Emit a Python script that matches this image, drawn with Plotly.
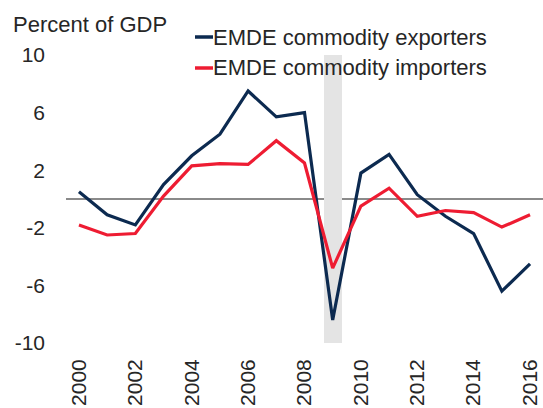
import plotly.graph_objects as go

years = list(range(2000, 2017))
exporters = [0.5, -1.1, -1.8, 1.0, 3.0, 4.5, 7.5, 5.7, 6.0, -8.4, 1.8, 3.1, 0.3, -1.2, -2.4, -6.4, -4.5]
importers = [-1.8, -2.5, -2.4, 0.2, 2.3, 2.45, 2.4, 4.05, 2.5, -4.8, -0.5, 0.75, -1.2, -0.8, -0.95, -1.95, -1.1]
series_names = ["EMDE commodity exporters", "EMDE commodity importers"]
series_colors = ["#0c2a50", "#ee1c32"]
recession_year = [2009]
x_ticks = [2000, 2002, 2004, 2006, 2008, 2010, 2012, 2014, 2016]
y_ticks = [-10, -6, -2, 2, 6, 10]
y_tick_labels = ["-10", "-6", "-2", "2", "6", "10"]
y_title = "Percent of GDP"

FONT = "Liberation Sans, Arial, sans-serif"
TXT = "#262626"
W, H = 543, 408
ML, MR, MT, MB = 66, 0, 55, 65
PW, PH = W - ML - MR, H - MT - MB

def px_x(p):
    return (p - ML) / PW

def px_y(p):
    return (H - MB - p) / PH

fig = go.Figure()
fig.add_trace(go.Bar(x=recession_year, y=[20], base=[-10], width=0.64,
                     marker=dict(color="#e4e4e4", line=dict(width=0)),
                     showlegend=False, hoverinfo="skip"))
for name, vals, col in zip(series_names, [exporters, importers], series_colors):
    fig.add_trace(go.Scatter(x=years, y=vals, mode="lines", name=name,
                             line=dict(color=col, width=3.2), showlegend=False))

annotations = [dict(text=y_title, xref="paper", yref="paper", x=px_x(11), y=px_y(24),
                    xanchor="left", yanchor="middle", showarrow=False,
                    font=dict(family=FONT, size=22, color=TXT))]
shapes = []
leg_y = [37, 68]
for name, col, ly in zip(series_names, series_colors, leg_y):
    annotations.append(dict(text=name, xref="paper", yref="paper", x=px_x(211), y=px_y(ly),
                            xanchor="left", yanchor="middle", showarrow=False,
                            font=dict(family=FONT, size=22, color=TXT)))
    shapes.append(dict(type="line", xref="paper", yref="paper", x0=px_x(195), x1=px_x(213),
                       y0=px_y(ly), y1=px_y(ly), line=dict(color=col, width=3.5)))

fig.update_layout(
    width=W, height=H,
    margin=dict(l=ML, r=MR, t=MT, b=MB, pad=0),
    plot_bgcolor="white", paper_bgcolor="white",
    font=dict(family=FONT, size=21, color=TXT),
    annotations=annotations, shapes=shapes,
    bargap=0,
    xaxis=dict(range=[1999.54, 2016.46], tickvals=x_ticks, tickangle=-90,
               showgrid=False, zeroline=False, showline=False, ticks="",
               ticklabelstandoff=11, automargin=False, fixedrange=True,
               tickfont=dict(size=21)),
    yaxis=dict(range=[-10, 10], tickvals=y_ticks, ticktext=y_tick_labels, showgrid=False,
               zeroline=True, zerolinecolor="#8a8a8a", zerolinewidth=1.5,
               showline=False, ticks="", ticklabelstandoff=20, automargin=False,
               fixedrange=True, tickfont=dict(size=21)),
)
fig.write_html("out.html", config={"displayModeBar": False},
               post_script="document.body.style.margin='0';document.body.style.overflow='hidden';")
